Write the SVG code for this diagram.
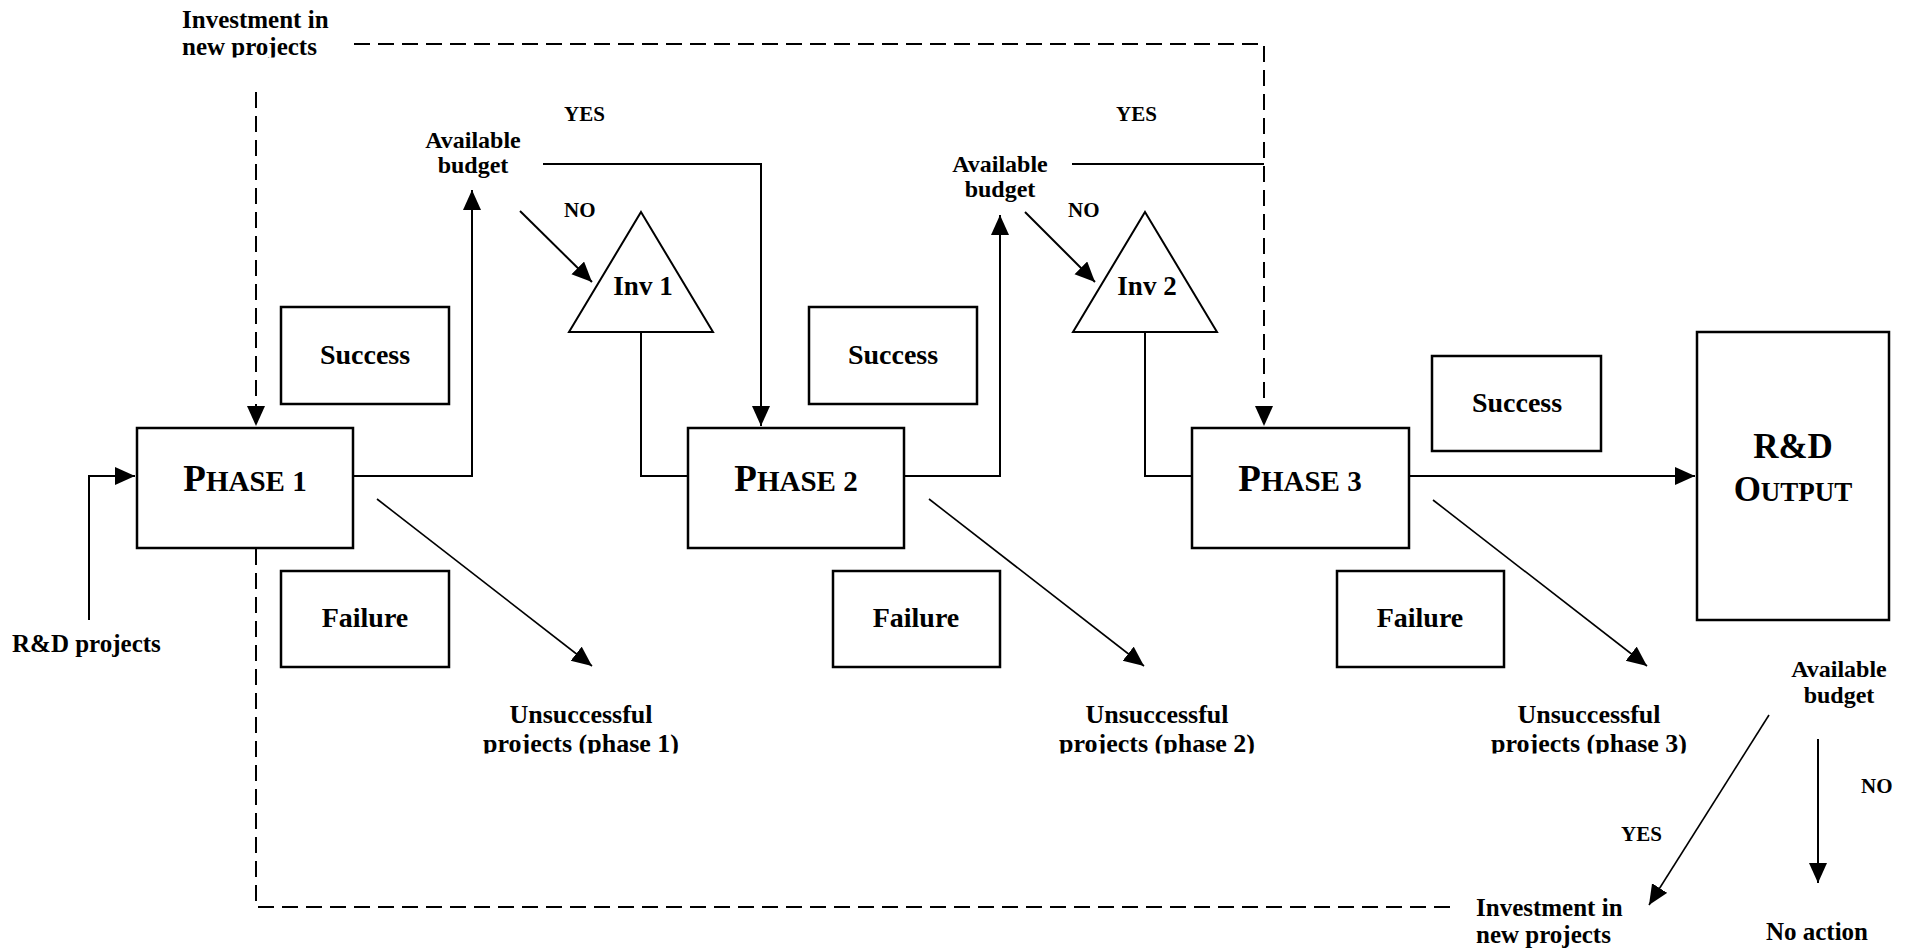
<svg xmlns="http://www.w3.org/2000/svg" width="1913" height="950" viewBox="0 0 1913 950">
  <defs>
    <style>
      .t { font-family: "Liberation Serif", "Times New Roman", serif; font-weight: bold; fill: #000; }
      .box { fill: #fff; stroke: #000; stroke-width: 2.5; }
      .ln { fill: none; stroke: #000; stroke-width: 2; }
      .thin { fill: none; stroke: #000; stroke-width: 1.6; }
      .dash { fill: none; stroke: #000; stroke-width: 2; stroke-dasharray: 16 8; }
      .lbl { font-size: 25px; }
      .yn { font-size: 21px; }
      .big { font-size: 28px; }
    </style>
    <marker id="arr" markerUnits="userSpaceOnUse" markerWidth="22" markerHeight="20" refX="20" refY="9" orient="auto">
      <path d="M0,0 L20,9 L0,18 Z" fill="#000"/>
    </marker>
    <clipPath id="clipTop"><rect x="0" y="0" width="400" height="57.5"/></clipPath>
    <clipPath id="clipUns"><rect x="0" y="690" width="1913" height="63.5"/></clipPath>
  </defs>

  <rect width="1913" height="950" fill="#fff"/>

  <!-- connectors -->
  <g id="connectors">
    <!-- investment feedback (top) -->
    <polyline class="dash" points="354,44 1264,44 1264,426" marker-end="url(#arr)"/>
    <line class="dash" x1="256" y1="92" x2="256" y2="426" marker-end="url(#arr)"/>
    <!-- investment feedback (bottom) -->
    <polyline class="dash" points="256,549 256,907 1450,907"/>
    <!-- R&D projects into phase 1 -->
    <polyline class="ln" points="89,620 89,476 135,476" marker-end="url(#arr)"/>
    <!-- phase 1 to budget check -->
    <polyline class="ln" points="353,476 472,476 472,190" marker-end="url(#arr)"/>
    <!-- budget YES to phase 2 -->
    <polyline class="ln" points="543,164 761,164 761,426" marker-end="url(#arr)"/>
    <!-- budget NO to Inv 1 -->
    <line class="ln" x1="520" y1="211" x2="592" y2="282" marker-end="url(#arr)"/>
    <!-- Inv 1 to phase 2 -->
    <polyline class="ln" points="641,332 641,476 688,476"/>
    <!-- phase 2 to budget check -->
    <polyline class="ln" points="904,476 1000,476 1000,215" marker-end="url(#arr)"/>
    <!-- budget YES to phase 3 -->
    <line class="ln" x1="1072" y1="164" x2="1264" y2="164"/>
    <!-- budget NO to Inv 2 -->
    <line class="ln" x1="1025" y1="212" x2="1095" y2="282" marker-end="url(#arr)"/>
    <!-- Inv 2 to phase 3 -->
    <polyline class="ln" points="1145,332 1145,476 1192,476"/>
    <!-- phase 3 to output -->
    <line class="ln" x1="1409" y1="476" x2="1695" y2="476" marker-end="url(#arr)"/>
    <!-- unsuccessful projects -->
    <line class="thin" x1="377" y1="499" x2="592" y2="666" marker-end="url(#arr)"/>
    <line class="thin" x1="929" y1="499" x2="1144" y2="666" marker-end="url(#arr)"/>
    <line class="thin" x1="1433" y1="500" x2="1647" y2="666" marker-end="url(#arr)"/>
    <!-- final budget decision -->
    <line class="thin" x1="1769" y1="715" x2="1649" y2="905" marker-end="url(#arr)"/>
    <line class="ln" x1="1818" y1="739" x2="1818" y2="883" marker-end="url(#arr)"/>
  </g>

  <!-- free labels -->
  <g id="label-invest-top" clip-path="url(#clipTop)">
    <text class="t lbl" x="182" y="28">Investment in</text>
    <text class="t lbl" x="182" y="55">new projects</text>
  </g>
  <g id="label-rd-projects">
    <text class="t lbl" x="12" y="652">R&amp;D projects</text>
  </g>

  <g id="budget-1">
    <text class="t" font-size="24" x="473" y="148" text-anchor="middle">Available</text>
    <text class="t" font-size="24" x="473" y="173" text-anchor="middle">budget</text>
    <text class="t yn" x="564" y="121">YES</text>
    <text class="t yn" x="564" y="217">NO</text>
  </g>
  <g id="budget-2">
    <text class="t" font-size="24" x="1000" y="172" text-anchor="middle">Available</text>
    <text class="t" font-size="24" x="1000" y="197" text-anchor="middle">budget</text>
    <text class="t yn" x="1116" y="121">YES</text>
    <text class="t yn" x="1068" y="217">NO</text>
  </g>

  <!-- investment triangles -->
  <g id="inv-1">
    <polygon class="ln" points="641,212 713,332 569,332" fill="#fff"/>
    <text class="t" font-size="27" x="643" y="295" text-anchor="middle">Inv 1</text>
  </g>
  <g id="inv-2">
    <polygon class="ln" points="1145,212 1217,332 1073,332" fill="#fff"/>
    <text class="t" font-size="27" x="1147" y="295" text-anchor="middle">Inv 2</text>
  </g>

  <!-- phases -->
  <g id="phase-1">
    <rect class="box" x="137" y="428" width="216" height="120"/>
    <text class="t" x="245" y="491" text-anchor="middle"><tspan font-size="37">P</tspan><tspan font-size="29">HASE 1</tspan></text>
  </g>
  <g id="phase-2">
    <rect class="box" x="688" y="428" width="216" height="120"/>
    <text class="t" x="796" y="491" text-anchor="middle"><tspan font-size="37">P</tspan><tspan font-size="29">HASE 2</tspan></text>
  </g>
  <g id="phase-3">
    <rect class="box" x="1192" y="428" width="217" height="120"/>
    <text class="t" x="1300" y="491" text-anchor="middle"><tspan font-size="37">P</tspan><tspan font-size="29">HASE 3</tspan></text>
  </g>

  <!-- outcome boxes -->
  <g id="success-1">
    <rect class="box" x="281" y="307" width="168" height="97"/>
    <text class="t big" x="365" y="364" text-anchor="middle">Success</text>
  </g>
  <g id="failure-1">
    <rect class="box" x="281" y="571" width="168" height="96"/>
    <text class="t big" x="365" y="627" text-anchor="middle">Failure</text>
  </g>
  <g id="success-2">
    <rect class="box" x="809" y="307" width="168" height="97"/>
    <text class="t big" x="893" y="364" text-anchor="middle">Success</text>
  </g>
  <g id="failure-2">
    <rect class="box" x="833" y="571" width="167" height="96"/>
    <text class="t big" x="916" y="627" text-anchor="middle">Failure</text>
  </g>
  <g id="success-3">
    <rect class="box" x="1432" y="356" width="169" height="95"/>
    <text class="t big" x="1517" y="412" text-anchor="middle">Success</text>
  </g>
  <g id="failure-3">
    <rect class="box" x="1337" y="571" width="167" height="96"/>
    <text class="t big" x="1420" y="627" text-anchor="middle">Failure</text>
  </g>

  <!-- output -->
  <g id="rd-output">
    <rect class="box" x="1697" y="332" width="192" height="288" stroke-width="3"/>
    <text class="t" font-size="35" x="1793" y="458" text-anchor="middle">R&amp;D</text>
    <text class="t" x="1793" y="501" text-anchor="middle"><tspan font-size="35">O</tspan><tspan font-size="27">UTPUT</tspan></text>
  </g>

  <!-- unsuccessful projects labels -->
  <g id="unsuccessful-labels" clip-path="url(#clipUns)">
    <text class="t" font-size="26" x="581" y="723" text-anchor="middle">Unsuccessful</text>
    <text class="t" font-size="26" x="581" y="752" text-anchor="middle">projects (phase 1)</text>
    <text class="t" font-size="26" x="1157" y="723" text-anchor="middle">Unsuccessful</text>
    <text class="t" font-size="26" x="1157" y="752" text-anchor="middle">projects (phase 2)</text>
    <text class="t" font-size="26" x="1589" y="723" text-anchor="middle">Unsuccessful</text>
    <text class="t" font-size="26" x="1589" y="752" text-anchor="middle">projects (phase 3)</text>
  </g>

  <!-- final decision -->
  <g id="budget-3">
    <text class="t" font-size="24" x="1839" y="677" text-anchor="middle">Available</text>
    <text class="t" font-size="24" x="1839" y="703" text-anchor="middle">budget</text>
    <text class="t yn" x="1621" y="841">YES</text>
    <text class="t yn" x="1861" y="793">NO</text>
  </g>
  <g id="label-invest-bottom">
    <text class="t lbl" x="1476" y="916">Investment in</text>
    <text class="t lbl" x="1476" y="943">new projects</text>
  </g>
  <g id="label-no-action">
    <text class="t lbl" x="1817" y="940" text-anchor="middle">No action</text>
  </g>
</svg>
